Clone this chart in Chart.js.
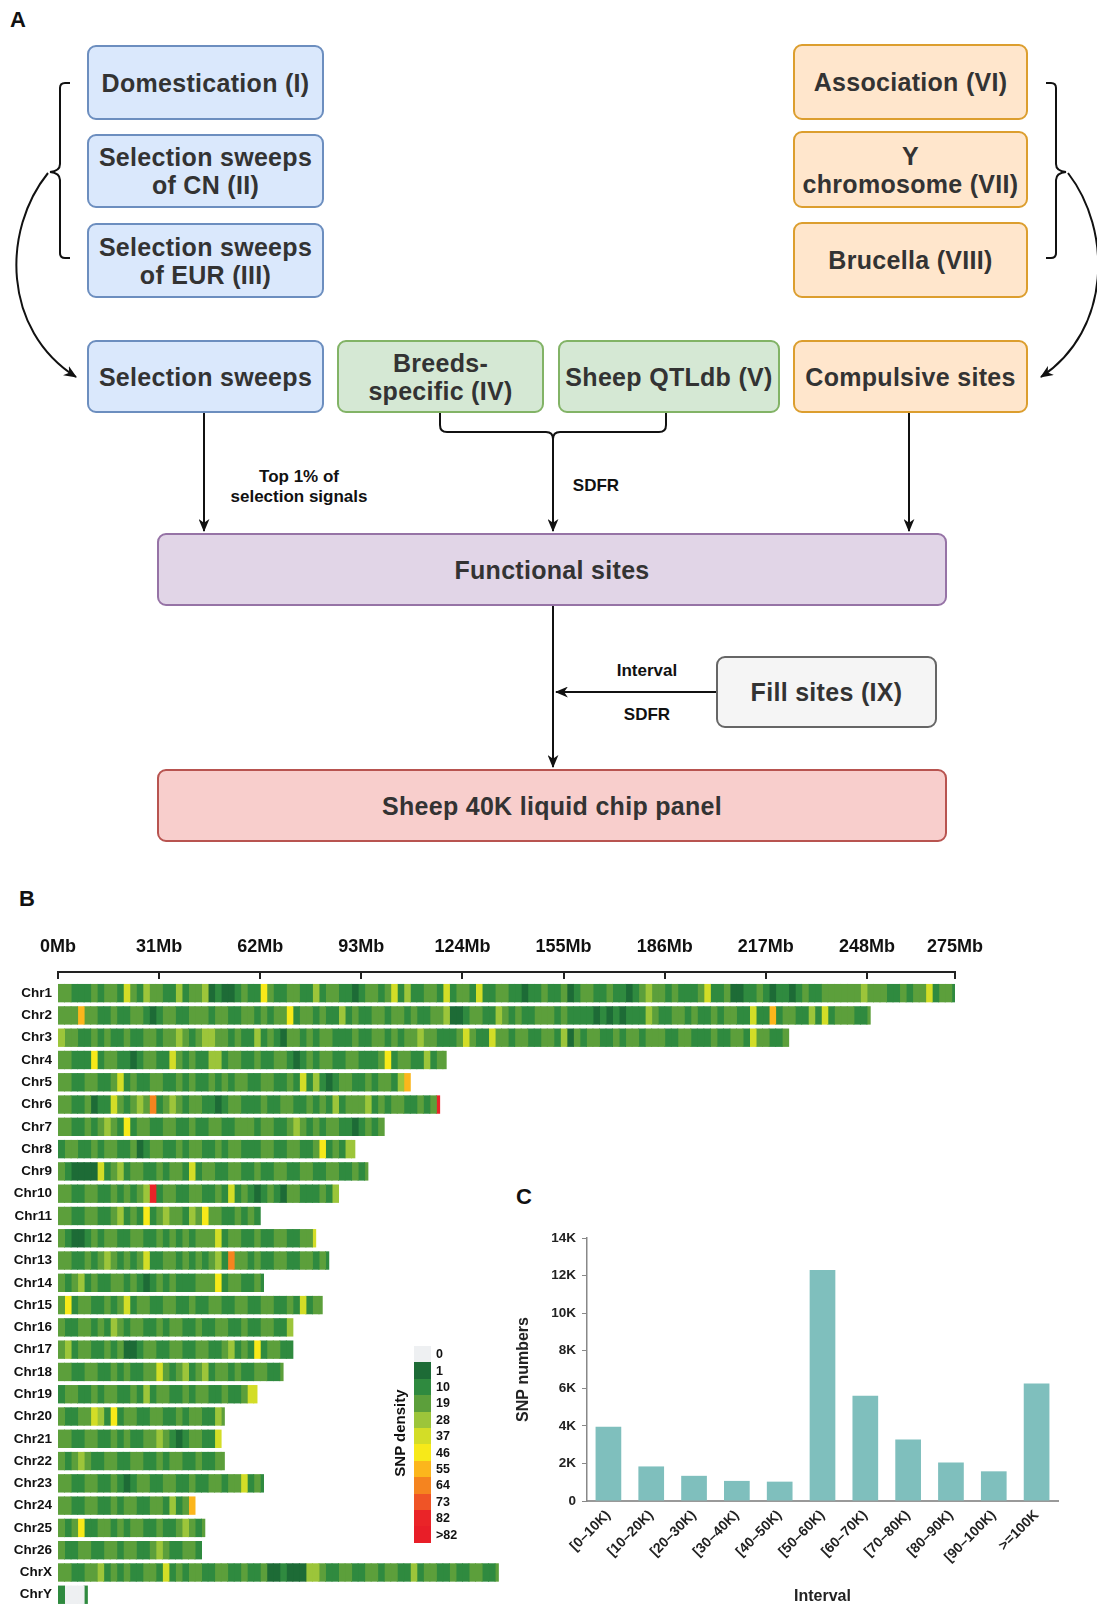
<!DOCTYPE html>
<html>
<head>
<meta charset="utf-8">
<script src="https://cdn.jsdelivr.net/npm/chart.js@4.4.1/dist/chart.umd.min.js"></script>
<style>
html, body { margin: 0; padding: 0; background: #fff; }
body { width: 1097px; height: 1610px; position: relative; overflow: hidden; font-family: "Liberation Sans", Arial, sans-serif; }
.box { position: absolute; box-sizing: border-box; border: 2px solid; border-radius: 9px; display: flex; align-items: center; justify-content: center; text-align: center; font-weight: bold; font-size: 25px; letter-spacing: 0.3px; line-height: 28px; color: #333; white-space: nowrap; }
.blue { background: #dae8fc; border-color: #6c8ebf; }
.green { background: #d5e8d4; border-color: #82b366; }
.orange { background: #ffe6cc; border-color: #dc9e2e; }
.purple { background: #e1d5e7; border-color: #9673a6; }
.grey { background: #f5f5f5; border-color: #666; }
.red { background: #f8cecc; border-color: #b85450; }
.note { position: absolute; font-weight: bold; font-size: 17px; line-height: 20px; color: #111; transform: translate(-50%, -50%); white-space: nowrap; text-align: center; }
.panel { position: absolute; font-weight: bold; font-size: 22px; line-height: 22px; color: #111; }
canvas { position: absolute; }
.sw { position: absolute; left: 414px; width: 17px; }
.swl { position: absolute; left: 436px; font-weight: bold; font-size: 12.5px; line-height: 14px; color: #111; transform: translateY(-50%); }
</style>
</head>
<body>

<div class="panel" style="left:10px;top:9px">A</div>
<div class="panel" style="left:19px;top:888px">B</div>
<div class="panel" style="left:516px;top:1186px">C</div>

<!-- panel A: flow diagram -->
<div class="box blue" style="left:87px;top:45px;width:237px;height:75px">Domestication (I)</div>
<div class="box blue" style="left:87px;top:134px;width:237px;height:74px">Selection sweeps<br>of CN (II)</div>
<div class="box blue" style="left:87px;top:223px;width:237px;height:75px">Selection sweeps<br>of EUR (III)</div>
<div class="box blue" style="left:87px;top:340px;width:237px;height:73px">Selection sweeps</div>
<div class="box green" style="left:337px;top:340px;width:207px;height:73px">Breeds-<br>specific (IV)</div>
<div class="box green" style="left:558px;top:340px;width:222px;height:73px">Sheep QTLdb (V)</div>
<div class="box orange" style="left:793px;top:340px;width:235px;height:73px">Compulsive sites</div>
<div class="box orange" style="left:793px;top:44px;width:235px;height:76px">Association (VI)</div>
<div class="box orange" style="left:793px;top:131px;width:235px;height:77px">Y<br>chromosome (VII)</div>
<div class="box orange" style="left:793px;top:222px;width:235px;height:76px">Brucella (VIII)</div>
<div class="box purple" style="left:157px;top:533px;width:790px;height:73px">Functional sites</div>
<div class="box grey" style="left:716px;top:656px;width:221px;height:72px">Fill sites (IX)</div>
<div class="box red" style="left:157px;top:769px;width:790px;height:73px">Sheep 40K liquid chip panel</div>

<div class="note" style="left:299px;top:487px">Top 1% of<br>selection signals</div>
<div class="note" style="left:596px;top:486px">SDFR</div>
<div class="note" style="left:647px;top:671px">Interval</div>
<div class="note" style="left:647px;top:715px">SDFR</div>

<svg width="1097" height="860" style="position:absolute;left:0;top:0">
  <defs>
    <marker id="ah" viewBox="0 0 12 10" refX="11" refY="5" markerWidth="13" markerHeight="11" markerUnits="userSpaceOnUse" orient="auto">
      <path d="M0,0 L12,5 L0,10 L3.5,5 z" fill="#111"/>
    </marker>
  </defs>
  <g fill="none" stroke="#111" stroke-width="2">
    <path d="M70,83 H65 Q60,83 60,88 V164 Q60,171 50,172 Q60,173 60,180 V253 Q60,258 65,258 H70"/>
    <path d="M48,173 C2,230 2,330 76,377" marker-end="url(#ah)"/>
    <path d="M1046,83 H1051 Q1056,83 1056,88 V164 Q1056,171 1066,172 Q1056,173 1056,180 V253 Q1056,258 1051,258 H1046"/>
    <path d="M1068,173 C1112,230 1112,330 1041,377" marker-end="url(#ah)"/>
    <path d="M204,413 V531" marker-end="url(#ah)"/>
    <path d="M440,413 V425 Q440,432 447,432 H546 Q553,432 553,439"/>
    <path d="M666,413 V425 Q666,432 659,432 H560 Q553,432 553,439"/>
    <path d="M553,439 V531" marker-end="url(#ah)"/>
    <path d="M909,413 V531" marker-end="url(#ah)"/>
    <path d="M553,606 V767" marker-end="url(#ah)"/>
    <path d="M716,692 H556" marker-end="url(#ah)"/>
  </g>
</svg>

<!-- panel B: SNP density along chromosomes -->
<canvas id="chartB" width="1000" height="700" style="left:0;top:920px"></canvas>
<div id="legendB"></div>
<div style="position:absolute;left:399px;top:1433px;transform:translate(-50%,-50%) rotate(-90deg);font-weight:bold;font-size:15px;color:#111;white-space:nowrap">SNP density</div>

<!-- panel C: interval histogram -->
<canvas id="chartC" width="597" height="430" style="left:500px;top:1180px"></canvas>

<script>
// ---- panel B data ----
const chrNames = ['Chr1','Chr2','Chr3','Chr4','Chr5','Chr6','Chr7','Chr8','Chr9','Chr10','Chr11','Chr12','Chr13','Chr14',
  'Chr15','Chr16','Chr17','Chr18','Chr19','Chr20','Chr21','Chr22','Chr23','Chr24','Chr25','Chr26','ChrX','ChrY'];
const chrLengthsMb = [275, 249, 224, 119, 108, 117, 100, 91, 95, 86, 62, 79, 83, 63, 81, 72, 72, 69, 61, 51, 50, 51, 63, 42, 45, 44, 135, 9];
const binMb = 2;
// one character per 2 Mb window, index into densityLevels (0-9, a, b)
const densityCodes = [
  '3322232332 5324332242 3341211232 2632233224 2332212332 3524223325 2332522332 2122322312 3322322123 4332322235 2231122321 2212322333 3334333223 23352332',
  '3337332232 2332123322 3332332233 2323362332 3224232233 2332322334 1123322432 3223332322 2212121222 4322332322 3233225227 2332242523 33223',
  '4332232322 3223323343 2344332322 4232133232 3322232233 2323343322 2353225332 3322332413 2332232332 3332233222 3223325332 23',
  '3322262332 2123322532 3224423322 3223321232 3322332223 6233224233',
  '3322332235 2322332232 3223232332 2332232524 2123322323 3247',
  '3322312253 2343823432 3322123322 2322332232 3242333423 23322323a',
  '3322323432 6233223322 3223322333 2332234323 2332212323',
  '2332232332 2312332232 3322323322 2332233223 623244',
  '3211115234 2332232332 5233223322 3223322332 23322323',
  '3322332232 3234a23322 3322325232 1232133222 324',
  '3322332234 2326234332 4363322323 2',
  '3211232332 2332232323 2333523322 3223322335',
  '3322323432 3235223323 2323428332 3223322332 32',
  '3234232233 2321232322 2333623322 32',
  '3623322323 5233223322 3223322332 2332232523 3',
  '3223323243 2332232332 2322332232 233224',
  '3423322323 1123322332 2332234232 623322',
  '3322332232 3223353234 2342332322 33223',
  '2332232332 2324233223 2332232235 5',
  '3223354262 3322332232 332243',
  '3322332232 3223343212 33225',
  '3234322332 2332232332 232233',
  '3322332232 1233223322 3223323352 32',
  '3322332232 3322332423 7',
  '3236223323 2332232234 323',
  '3223322332 3322343223 32',
  '3322334232 3223325232 3322332232 2311211144 3223322332 3322423322 32233223',
  '20002'
];
const densityLevels = ['0', '1', '10', '19', '28', '37', '46', '55', '64', '73', '82', '>82'];
const densityColors = ['#eef0f2', '#1d6b36', '#2f8a3f', '#5c9f3b', '#9cc53a', '#d3dd27', '#f7e919', '#fcb61c', '#f5841f', '#ef5426', '#ea2428', '#e81e28'];
const axisTicksMb = [0, 31, 62, 93, 124, 155, 186, 217, 248, 275];

// ---- panel C data ----
const intervalLabels = ['[0–10K)', '[10–20K)', '[20–30K)', '[30–40K)', '[40–50K)', '[50–60K)', '[60–70K)', '[70–80K)', '[80–90K)', '[90–100K)', '>=100K'];
const snpCounts = [3950, 1840, 1340, 1070, 1030, 12300, 5600, 3280, 2050, 1580, 6250];
const snpTicks = [0, 2000, 4000, 6000, 8000, 10000, 12000, 14000];

Chart.defaults.font.family = '"Liberation Sans", Arial, sans-serif';
Chart.defaults.color = '#111';

// panel B
const bins = densityCodes.map(s => s.replace(/ /g, '').split('').map(c => '0123456789ab'.indexOf(c)));
const maxBins = Math.max(...bins.map(b => b.length));
const windowSets = [];
for (let k = 0; k < maxBins; k++) {
  windowSets.push({
    data: bins.map((b, i) => k < b.length ? [k * binMb, Math.min((k + 1) * binMb, chrLengthsMb[i])] : null),
    backgroundColor: bins.map(b => k < b.length ? densityColors[b[k]] : 'rgba(0,0,0,0)'),
    borderWidth: 0,
    inflateAmount: 0.5,
    grouped: false,
    barPercentage: 0.78,
    categoryPercentage: 1
  });
}

const topAxisLine = {
  id: 'topAxisLine',
  afterDraw(chart) {
    const x = chart.scales.x, ctx = chart.ctx, y0 = chart.chartArea.top - 10;
    ctx.save();
    ctx.strokeStyle = '#222';
    ctx.lineWidth = 2;
    ctx.beginPath();
    ctx.moveTo(x.getPixelForValue(axisTicksMb[0]) - 1, y0);
    ctx.lineTo(x.getPixelForValue(axisTicksMb[axisTicksMb.length - 1]) + 1, y0);
    axisTicksMb.forEach(v => {
      const px = Math.round(x.getPixelForValue(v));
      ctx.moveTo(px, y0);
      ctx.lineTo(px, y0 + 7);
    });
    ctx.stroke();
    ctx.restore();
  }
};

new Chart(document.getElementById('chartB'), {
  type: 'bar',
  data: { labels: chrNames, datasets: windowSets },
  options: {
    indexAxis: 'y',
    responsive: false,
    animation: false,
    layout: { autoPadding: false, padding: { left: 0, right: 45, top: 0, bottom: 6.3 } },
    plugins: { legend: { display: false }, tooltip: { enabled: false } },
    scales: {
      x: {
        type: 'linear', position: 'top', min: 0, max: 275,
        afterBuildTicks: s => { s.ticks = axisTicksMb.map(v => ({ value: v })); },
        afterFit: s => { s.height = 62; s.paddingRight = 0; s.paddingLeft = 0; },
        grid: { display: false, drawTicks: false },
        border: { display: false },
        ticks: { autoSkip: false, maxRotation: 0, padding: 24, font: { size: 18, weight: 'bold' }, color: '#111', callback: v => v + 'Mb' }
      },
      y: {
        afterFit: s => { s.width = 58; },
        grid: { display: false, drawTicks: false },
        border: { display: false },
        ticks: { autoSkip: false, padding: 6, font: { size: 13.5, weight: 'bold' }, color: '#111' }
      }
    }
  },
  plugins: [topAxisLine]
});

// legend for panel B
const legendB = document.getElementById('legendB');
densityLevels.forEach((lv, i) => {
  const sw = document.createElement('div');
  sw.className = 'sw';
  sw.style.top = (1346 + i * 16.4) + 'px';
  sw.style.height = '16.6px';
  sw.style.background = densityColors[i];
  legendB.appendChild(sw);
  const lb = document.createElement('div');
  lb.className = 'swl';
  lb.style.top = (1346 + i * 16.4 + 8.2) + 'px';
  lb.textContent = lv;
  legendB.appendChild(lb);
});

// panel C
new Chart(document.getElementById('chartC'), {
  type: 'bar',
  data: {
    labels: intervalLabels,
    datasets: [{ data: snpCounts, backgroundColor: '#7fbfbd', barPercentage: 0.6, categoryPercentage: 1 }]
  },
  options: {
    responsive: false,
    animation: false,
    layout: { padding: { top: 58, right: 39, left: 0, bottom: 0 } },
    plugins: { legend: { display: false }, tooltip: { enabled: false } },
    scales: {
      x: {
        afterFit: s => { s.height = 109; },
        grid: { display: false, drawTicks: false },
        border: { color: '#999', width: 2 },
        ticks: { autoSkip: false, minRotation: 45, maxRotation: 45, padding: 6, font: { size: 14, weight: 'bold' }, color: '#222' },
        title: { display: true, text: 'Interval', font: { size: 16, weight: 'bold' }, color: '#222', padding: { top: 7 } }
      },
      y: {
        min: 0, max: 14000,
        afterBuildTicks: s => { s.ticks = snpTicks.map(v => ({ value: v })); },
        afterFit: s => { s.width = 87; },
        grid: { drawOnChartArea: false, tickLength: 5, color: '#888' },
        border: { color: '#888', width: 1.5 },
        ticks: { padding: 6, font: { size: 13.5, weight: 'bold' }, color: '#222', callback: v => v === 0 ? '0' : (v / 1000) + 'K' },
        title: { display: true, text: 'SNP numbers', font: { size: 16, weight: 'bold' }, color: '#222', padding: { top: 14 } }
      }
    }
  }
});
</script>
</body>
</html>
